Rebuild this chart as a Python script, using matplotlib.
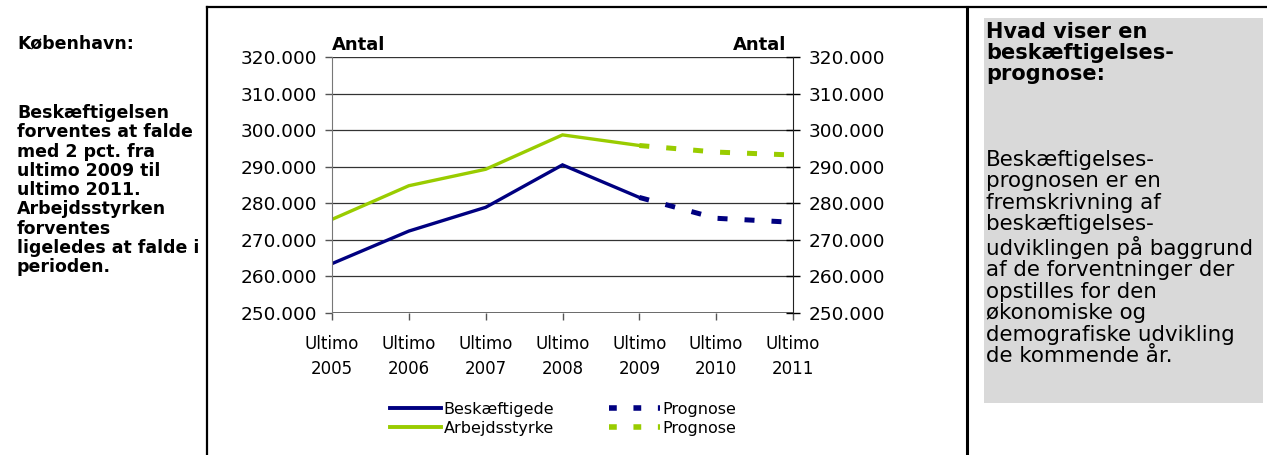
import matplotlib.pyplot as plt
from matplotlib.lines import Line2D
from matplotlib.patches import Rectangle
from matplotlib.ticker import FuncFormatter

# data
years = ["Ultimo\n2005", "Ultimo\n2006", "Ultimo\n2007", "Ultimo\n2008",
         "Ultimo\n2009", "Ultimo\n2010", "Ultimo\n2011"]
besk = [263500, 272400, 278900, 290500, 281600]
besk_prog = [281600, 275900, 274800]
arb = [275600, 284800, 289300, 298700, 295800]
arb_prog = [295800, 294000, 293200]
yticks = [250000, 260000, 270000, 280000, 290000, 300000, 310000, 320000]

left_text = ("Beskæftigelsen\nforventes at falde\nmed 2 pct. fra\nultimo 2009 til\n"
             "ultimo 2011.\nArbejdsstyrken\nforventes\nligeledes at falde i\nperioden.")
box_head = "Hvad viser en\nbeskæftigelses-\nprognose:"
box_body = ("Beskæftigelses-\nprognosen er en\nfremskrivning af\nbeskæftigelses-\n"
            "udviklingen på baggrund\naf de forventninger der\nopstilles for den\n"
            "økonomiske og\ndemografiske udvikling\nde kommende år.")

NAVY = "#000080"
GREEN = "#99CC00"
W, H = 1267, 455

fig = plt.figure(figsize=(W / 100, H / 100), dpi=100)

ax = fig.add_axes([332 / W, 1 - 313 / H, (793 - 332) / W, (313 - 57) / H])
x = list(range(len(years)))
n = len(besk)
dash = (0, (2.0, 3.4))
ax.plot(x[:n], besk, color=NAVY, lw=2.4, solid_joinstyle="miter")
ax.plot(x[n - 1:], besk_prog, color=NAVY, lw=3.6, linestyle=dash, dash_capstyle="butt")
ax.plot(x[:n], arb, color=GREEN, lw=2.4, solid_joinstyle="miter")
ax.plot(x[n - 1:], arb_prog, color=GREEN, lw=3.6, linestyle=dash, dash_capstyle="butt")

fmt = FuncFormatter(lambda v, p: f"{v:,.0f}".replace(",", "."))
ax.set_xlim(0, len(years) - 1)
ax.set_ylim(yticks[0], yticks[-1])
ax.set_yticks(yticks)
ax.yaxis.set_major_formatter(fmt)
ax.set_xticks(x)
ax.set_xticklabels(years, fontsize=12, linespacing=1.5)
ax.tick_params(axis="y", labelsize=13.3, length=5, width=1, color="#555555", pad=6)
ax.tick_params(axis="x", length=5, width=1, color="#555555", pad=11)
ax.grid(axis="y", color="#333333", lw=0.9)
for s in ["top", "right", "bottom"]:
    ax.spines[s].set_visible(False)
ax.spines["left"].set_color("#777777")
ax.axhline(yticks[-1], color="#cccccc", lw=1, zorder=0.5)
ax.axhline(yticks[0], color="#555555", lw=1.2)

ax2 = ax.twinx()
ax2.set_ylim(yticks[0], yticks[-1])
ax2.set_yticks(yticks)
ax2.yaxis.set_major_formatter(fmt)
ax2.tick_params(axis="y", labelsize=13.3, length=10, direction="inout", width=1, pad=6)
for s in ["top", "left", "bottom"]:
    ax2.spines[s].set_visible(False)
ax2.spines["right"].set_color("#222222")

ax.text(0.0, 1.01, "Antal", transform=ax.transAxes, fontsize=13, fontweight="bold",
        ha="left", va="bottom")
ax.text(0.985, 1.01, "Antal", transform=ax.transAxes, fontsize=13, fontweight="bold",
        ha="right", va="bottom")

handles = [
    Line2D([], [], color=NAVY, lw=2.8),
    Line2D([], [], color=GREEN, lw=2.8),
    Line2D([], [], color=NAVY, lw=4, linestyle=(0, (1.4, 3.0)), dash_capstyle="butt"),
    Line2D([], [], color=GREEN, lw=4, linestyle=(0, (1.4, 3.0)), dash_capstyle="butt"),
]
labels = ["Beskæftigede", "Arbejdsstyrke", "Prognose", "Prognose"]
fig.legend(handles, labels, ncol=2, loc="center", bbox_to_anchor=(563 / W, 1 - 419 / H),
           frameon=False, fontsize=11.5, handlelength=3.2, handletextpad=0.15,
           columnspacing=3.4, labelspacing=0.25, borderpad=0)

# frame lines around the chart area
fig.add_artist(Line2D([207 / W, 207 / W], [0, 1 - 7 / H], color="black", lw=1.6))
fig.add_artist(Line2D([207 / W, 1], [1 - 7 / H, 1 - 7 / H], color="black", lw=1.6))
fig.add_artist(Line2D([967 / W, 967 / W], [0, 1 - 7 / H], color="black", lw=2.2))

# left text
fig.text(17 / W, 1 - 43 / H, "København:", fontsize=12.5, fontweight="bold", va="center")
fig.text(17 / W, 1 - 104 / H, left_text, fontsize=12.5, fontweight="bold", va="top",
         linespacing=1.09)

# right grey box
fig.add_artist(Rectangle((984 / W, 1 - 403 / H), (1263 - 984) / W, (403 - 18) / H,
                         transform=fig.transFigure, facecolor="#D9D9D9", edgecolor="none"))
fig.text(986 / W, 1 - 22 / H, box_head, fontsize=15, fontweight="bold", va="top",
         linespacing=1.05)
fig.text(986 / W, 1 - 150 / H, box_body, fontsize=15.4, va="top", linespacing=1.09)

fig.savefig("out.png", dpi=100)
